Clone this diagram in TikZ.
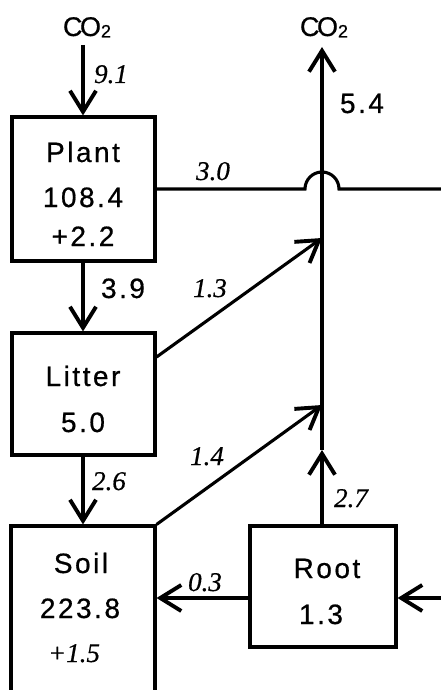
\documentclass[tikz,border=0pt]{standalone}
\usepackage{fontspec}
\setmainfont{Liberation Serif}[FakeBold=0.6]
\newfontfamily\hvsp[LetterSpace=9,FakeBold=0.6]{Liberation Sans}
\newfontfamily\hvco[FakeBold=0.6]{Liberation Sans}
\usetikzlibrary{arrows.meta}
\newcommand{\cotwo}{{\hvco\fontsize{27}{30}\selectfont C\kern-2.5pt O\raisebox{-1.5pt}{\fontsize{18}{20}\selectfont 2}}}
\tikzset{
  box/.style={draw, line width=3.1pt, inner sep=0pt},
  tx/.style={font=\hvsp\fontsize{28}{32}\selectfont, anchor=base, inner sep=0pt},
  it/.style={font=\fontsize{27}{30}\selectfont\itshape, anchor=base, inner sep=0pt},
  ln/.style={line width=3.1pt},
  arr/.style={line width=3.1pt, -{Straight Barb[length=21pt,width=26pt,line width=3.9pt]}}
}
\begin{document}
\begin{tikzpicture}[x=1pt,y=-1pt]
\clip (0,0) rectangle (441,690);
\fill[white] (0,0) rectangle (441,690);
% boxes
\node[box, minimum width=143pt, minimum height=144pt] (plant) at (83.5,189) {};
\node[box, minimum width=143pt, minimum height=122pt] (litter) at (83.5,394) {};
\node[box, minimum width=144pt, minimum height=200pt] (soil) at (83,626) {};
\node[box, minimum width=146pt, minimum height=121pt] (root) at (323,586.5) {};
% box texts
\node[tx] (tplant) at (83,162) {Plant};
\node[tx] (tplantv) at (83,207) {108.4};
\node[tx] (tplantd) at (83,246) {+2.2};
\node[tx] (tlitter) at (83,386) {Litter};
\node[tx] (tlitterv) at (83,432) {5.0};
\node[tx] (tsoil) at (81,573) {Soil};
\node[tx] (tsoilv) at (80,618) {223.8};
\node[it] (tsoild) at (74,662) {+1.5};
\node[tx] (troot) at (327,578) {Root};
\node[tx] (trootv) at (321,624) {1.3};
% CO2
\node[anchor=base, inner sep=0pt] (co2l) at (87,36) {\cotwo};
\node[anchor=base, inner sep=0pt] (co2r) at (324,36) {\cotwo};
% coordinates
\coordinate (c1) at (83,45);
\coordinate (top) at (322,47);
\coordinate (j1) at (322,238);
\coordinate (j2) at (322,405);
\coordinate (j3) at (322,450);
\coordinate (hopL) at (305,189);
\coordinate (eR) at (441,189);
\coordinate (rin) at (441,598);
% connectors
\draw[arr] (c1) -- (c1 |- plant.north);
\draw[arr] (plant.south -| c1) -- (litter.north -| c1);
\draw[arr] (litter.south -| c1) -- (soil.north -| c1);
\draw[arr] (root.north -| j3) -- (j3);
\draw[arr] (j3) -- (top);
\draw[arr] (litter.east |- 0,357) -- (j1);
\draw[arr] (soil.north east) -- (j2);
\draw[ln] (plant.east) -- (hopL) arc[start angle=180, end angle=0, radius=17pt] -- (eR);
\draw[arr] (root.west |- rin) -- (soil.east |- rin);
\draw[arr] (rin) -- (root.east |- rin);
% flow labels
\node[it] (l91) at (111,83) {9.1};
\node[tx] (l54) at (362,113) {5.4};
\node[it] (l30) at (213,180) {3.0};
\node[tx] (l39) at (123,298) {3.9};
\node[it] (l13) at (210,297) {1.3};
\node[it] (l14) at (207,465) {1.4};
\node[it] (l26) at (109,490) {2.6};
\node[it] (l27) at (351,507) {2.7};
\node[it] (l03) at (205,591) {0.3};
\end{tikzpicture}
\end{document}
